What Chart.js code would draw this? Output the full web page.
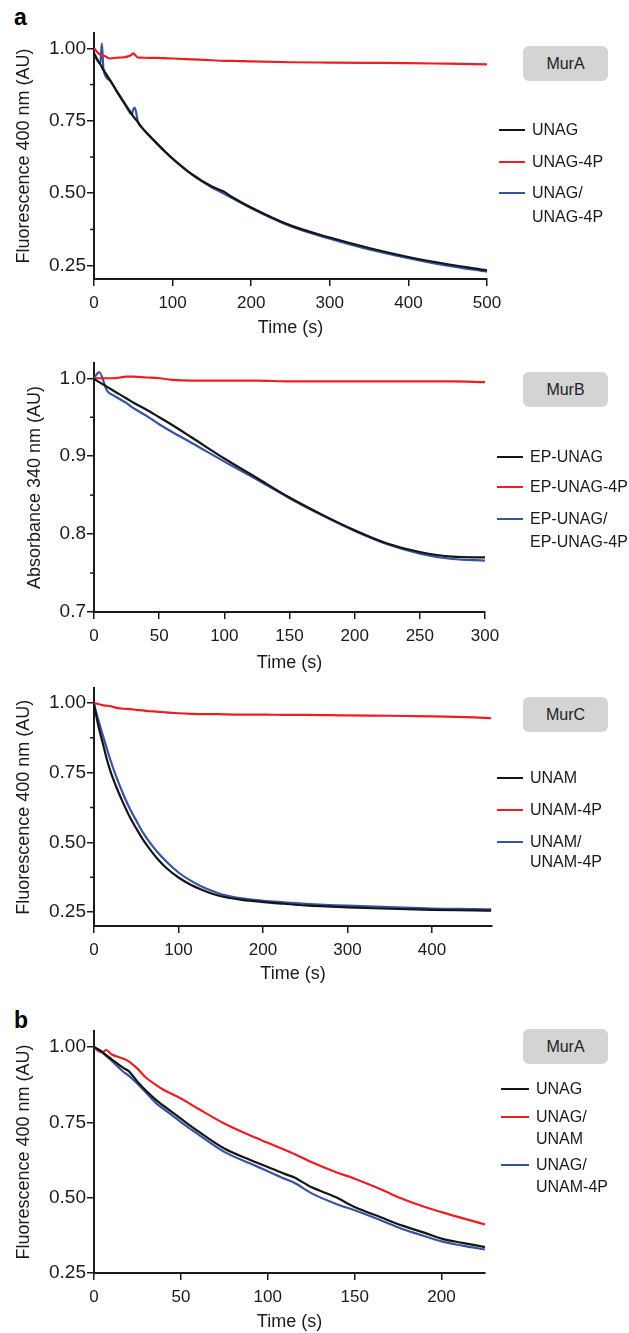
<!DOCTYPE html>
<html>
<head>
<meta charset="utf-8">
<script src="https://cdn.jsdelivr.net/npm/chart.js@4.4.1/dist/chart.umd.min.js"></script>
<style>
  body { margin: 0; width: 629px; height: 1333px; position: relative; background: #fff; overflow: hidden;
         font-family: "Liberation Sans", Arial, sans-serif; color: #1a1a1a; }
  canvas { position: absolute; left: 0; }
  .txt { position: absolute; white-space: nowrap; }
  .box { position: absolute; background: #d4d4d4; border-radius: 6px; text-align: center; font-size: 16px; color: #222; }
  .swatch { position: absolute; height: 2px; }
</style>
</head>
<body>
<script>
// panel a, MurA
const murATime = [0, 5, 8, 10, 12, 20, 30, 40, 48, 50, 52, 56, 60, 70, 80, 90, 100, 125, 150, 165, 175, 200, 250, 300, 350, 400, 450, 500];
const murAUnag = [0.983, 0.958, 0.945, 0.935, 0.926, 0.892, 0.848, 0.806, 0.774, 0.765, 0.758, 0.745, 0.73, 0.70, 0.672, 0.645, 0.62, 0.565, 0.523, 0.506, 0.488, 0.451, 0.389, 0.347, 0.311, 0.28, 0.255, 0.234];
const murAUnag4P = [1.0, 0.985, 0.978, 0.975, 0.975, 0.965, 0.968, 0.97, 0.978, 0.983, 0.978, 0.968, 0.968, 0.967, 0.967, 0.966, 0.965, 0.962, 0.959, 0.957, 0.957, 0.955, 0.952, 0.951, 0.95, 0.949, 0.947, 0.945];
const murAMix = [0.98, 0.955, 0.948, 1.017, 0.928, 0.89, 0.846, 0.804, 0.772, 0.79, 0.795, 0.745, 0.729, 0.699, 0.671, 0.644, 0.618, 0.563, 0.52, 0.499, 0.484, 0.448, 0.386, 0.343, 0.306, 0.276, 0.25, 0.229];

// MurB
const murBTime = [0, 4, 10, 15, 20, 25, 30, 40, 50, 60, 75, 100, 125, 150, 175, 200, 225, 250, 275, 300];
const murBEpUnag = [0.999, 0.995, 0.989, 0.984, 0.979, 0.974, 0.969, 0.96, 0.95, 0.94, 0.924, 0.897, 0.872, 0.847, 0.825, 0.805, 0.788, 0.777, 0.771, 0.77];
const murBEpUnag4P = [1.0, 1.0, 1.0, 1.0, 1.001, 1.002, 1.002, 1.001, 1.0, 0.998, 0.997, 0.997, 0.997, 0.996, 0.996, 0.996, 0.996, 0.996, 0.996, 0.995];
const murBMix = [1.0, 1.008, 0.984, 0.978, 0.973, 0.968, 0.962, 0.952, 0.941, 0.931, 0.917, 0.893, 0.87, 0.846, 0.824, 0.804, 0.787, 0.775, 0.768, 0.766];

// MurC
const murCTime = [0, 5, 11, 15, 20, 27, 35, 43, 50, 58, 66, 74, 85, 100, 115, 126, 140, 153, 175, 201, 225, 250, 300, 350, 400, 450, 470];
const murCUnam = [0.996, 0.92, 0.848, 0.80, 0.75, 0.694, 0.638, 0.587, 0.55, 0.51, 0.476, 0.445, 0.41, 0.374, 0.347, 0.332, 0.316, 0.305, 0.294, 0.286, 0.28, 0.274, 0.267, 0.262, 0.258, 0.256, 0.255];
const murCUnam4P = [1.0, 0.996, 0.991, 0.99, 0.988, 0.982, 0.979, 0.978, 0.975, 0.973, 0.97, 0.969, 0.966, 0.963, 0.961, 0.96, 0.96, 0.959, 0.958, 0.958, 0.957, 0.957, 0.955, 0.954, 0.952, 0.948, 0.945];
const murCMix = [0.996, 0.94, 0.878, 0.838, 0.79, 0.73, 0.67, 0.617, 0.578, 0.535, 0.5, 0.469, 0.433, 0.392, 0.362, 0.344, 0.326, 0.312, 0.299, 0.29, 0.285, 0.28, 0.273, 0.268, 0.263, 0.261, 0.26];

// panel b, MurA
const bTime = [0, 3, 5, 7, 10, 17, 20, 25, 30, 36, 40, 50, 60, 75, 90, 100, 110, 115, 125, 139, 150, 165, 177, 190, 200, 212, 225];
const bUnag = [1.0, 0.99, 0.982, 0.973, 0.96, 0.93, 0.92, 0.885, 0.855, 0.823, 0.805, 0.762, 0.72, 0.663, 0.625, 0.602, 0.578, 0.568, 0.535, 0.502, 0.469, 0.435, 0.408, 0.384, 0.364, 0.35, 0.336];
const bUnagUnam = [1.0, 0.985, 0.983, 0.99, 0.976, 0.961, 0.952, 0.928, 0.898, 0.873, 0.858, 0.829, 0.795, 0.746, 0.706, 0.682, 0.658, 0.646, 0.618, 0.585, 0.563, 0.528, 0.497, 0.47, 0.452, 0.432, 0.411];
const bUnagUnam4P = [1.0, 0.99, 0.98, 0.97, 0.955, 0.917, 0.905, 0.878, 0.848, 0.812, 0.795, 0.751, 0.71, 0.652, 0.613, 0.588, 0.562, 0.55, 0.515, 0.48, 0.458, 0.425, 0.397, 0.373, 0.355, 0.341, 0.328];

const FONT = '"Liberation Sans", Arial, sans-serif';
const BLACK = '#151515';
const RED = 'rgb(236, 30, 36)';
const BLUE = 'rgb(55, 84, 164)';
const INK = '#1a1a1a';

// short minor ticks on the y axis, placed through the scale
const minorTicks = {
    id: 'minorTicks',
    afterDraw(chart, args, opts) {
        const ys = chart.scales.y;
        const ctx = chart.ctx;
        ctx.save();
        ctx.strokeStyle = INK;
        ctx.lineWidth = 1.5;
        (opts.values || []).forEach(v => {
            const y = ys.getPixelForValue(v);
            ctx.beginPath();
            ctx.moveTo(ys.right - 4, y);
            ctx.lineTo(ys.right, y);
            ctx.stroke();
        });
        ctx.restore();
    }
};

function addDiv(cls, x, y, text, size, extra) {
    const d = document.createElement('div');
    d.className = cls;
    d.style.left = x + 'px';
    d.style.top = y + 'px';
    if (size) { d.style.fontSize = size + 'px'; d.style.lineHeight = size + 'px'; }
    if (text) d.textContent = text;
    Object.assign(d.style, extra || {});
    document.body.appendChild(d);
    return d;
}

function crearPanel(cfg) {
    const canvas = document.createElement('canvas');
    canvas.width = 629;
    canvas.height = cfg.bottom - cfg.top;
    canvas.style.top = cfg.top + 'px';
    canvas.style.width = '629px';
    canvas.style.height = (cfg.bottom - cfg.top) + 'px';
    document.body.appendChild(canvas);

    const padLeft = cfg.padLeft || 0;
    const colors = [BLACK, RED, BLUE];

    new Chart(canvas, {
        type: 'line',
        data: {
            datasets: cfg.series.map((vals, k) => ({
                label: cfg.names[k].join(' '),
                data: cfg.time.map((t, i) => ({ x: t, y: vals[i] })),
                borderColor: colors[k],
                borderWidth: 2.2,
                pointRadius: 0,
                fill: false,
                cubicInterpolationMode: 'monotone'
            }))
        },
        options: {
            responsive: false,
            animation: false,
            events: [],
            layout: { padding: { top: cfg.plotTop - cfg.top, right: 629 - cfg.right, left: padLeft, bottom: 0 } },
            plugins: {
                legend: { display: false },
                tooltip: { enabled: false },
                minorTicks: { values: cfg.minor }
            },
            scales: {
                x: {
                    type: 'linear',
                    min: 0,
                    max: cfg.xMax,
                    afterBuildTicks: s => { s.ticks = cfg.xTicks.map(v => ({ value: v })); },
                    afterFit: s => { s.height = cfg.bottom - cfg.axisY; },
                    grid: { drawOnChartArea: false, color: INK, lineWidth: 1.5, tickLength: 7 },
                    border: { color: INK, width: 2 },
                    ticks: { font: { family: FONT, size: 17 }, color: INK, padding: 7, maxRotation: 0, callback: v => String(v) },
                    title: {
                        display: true, text: 'Time (s)', color: INK,
                        font: { family: FONT, size: 18 },
                        padding: { top: 0, bottom: cfg.bottom - cfg.titleY - 10.8 }
                    }
                },
                y: {
                    type: 'linear',
                    min: cfg.yMin,
                    max: cfg.yMax,
                    afterBuildTicks: s => { s.ticks = cfg.yTicks.map(v => ({ value: v })); },
                    afterFit: s => { s.width = 94 - padLeft; },
                    grid: { drawOnChartArea: false, color: INK, lineWidth: 1.5, tickLength: 7 },
                    border: { color: INK, width: 2 },
                    ticks: { font: { family: FONT, size: 19 }, color: INK, padding: 1, callback: v => v.toFixed(cfg.dec) },
                    title: {
                        display: true, text: cfg.yTitle, color: INK,
                        font: { family: FONT, size: 18 },
                        padding: { top: 13, bottom: 0 }
                    }
                }
            }
        },
        plugins: [minorTicks]
    });

    // enzyme label box
    addDiv('box', 523, cfg.boxTop, cfg.enzyme, 0, { width: '85px', height: '35px', lineHeight: '35px' });
    // legend entries
    cfg.names.forEach((lines, k) => {
        const y0 = cfg.legendRows[k][0];
        addDiv('swatch', cfg.legendX, y0 - 1, '', 0, { width: cfg.swatchW + 'px', background: colors[k] });
        lines.forEach((line, j) => {
            addDiv('txt', cfg.legendX + cfg.swatchW + 7, cfg.legendRows[k][j] - 8, line, 16);
        });
    });
}

addDiv('txt', 14, 6, 'a', 23, { fontWeight: 'bold', color: '#000' });
addDiv('txt', 14, 1009, 'b', 23, { fontWeight: 'bold', color: '#000' });

crearPanel({
    top: 0, bottom: 341, plotTop: 33, axisY: 279, right: 487, titleY: 328,
    xMax: 500, xTicks: [0, 100, 200, 300, 400, 500],
    yMin: 0.204, yMax: 1.053, yTicks: [0.25, 0.5, 0.75, 1.0], minor: [0.375, 0.625, 0.875], dec: 2,
    yTitle: 'Fluorescence 400 nm (AU)',
    time: murATime, series: [murAUnag, murAUnag4P, murAMix],
    names: [['UNAG'], ['UNAG-4P'], ['UNAG/', 'UNAG-4P']],
    enzyme: 'MurA', boxTop: 46,
    legendX: 499, swatchW: 26, legendRows: [[130], [162], [193, 217]]
});

crearPanel({
    top: 341, bottom: 676, plotTop: 363, axisY: 612, right: 485, titleY: 663, padLeft: 11,
    xMax: 300, xTicks: [0, 50, 100, 150, 200, 250, 300],
    yMin: 0.7, yMax: 1.0196, yTicks: [0.7, 0.8, 0.9, 1.0], minor: [0.75, 0.85, 0.95], dec: 1,
    yTitle: 'Absorbance 340 nm (AU)',
    time: murBTime, series: [murBEpUnag, murBEpUnag4P, murBMix],
    names: [['EP-UNAG'], ['EP-UNAG-4P'], ['EP-UNAG/', 'EP-UNAG-4P']],
    enzyme: 'MurB', boxTop: 372,
    legendX: 497, swatchW: 26, legendRows: [[457], [487], [519, 542]]
});

crearPanel({
    top: 676, bottom: 987, plotTop: 686, axisY: 926, right: 492, titleY: 974,
    xMax: 471, xTicks: [0, 100, 200, 300, 400],
    yMin: 0.2002, yMax: 1.052, yTicks: [0.25, 0.5, 0.75, 1.0], minor: [0.375, 0.625, 0.875], dec: 2,
    yTitle: 'Fluorescence 400 nm (AU)',
    time: murCTime, series: [murCUnam, murCUnam4P, murCMix],
    names: [['UNAM'], ['UNAM-4P'], ['UNAM/', 'UNAM-4P']],
    enzyme: 'MurC', boxTop: 697,
    legendX: 497, swatchW: 26, legendRows: [[778], [810], [842, 862]]
});

crearPanel({
    top: 987, bottom: 1333, plotTop: 1031, axisY: 1273, right: 485, titleY: 1322,
    xMax: 225, xTicks: [0, 50, 100, 150, 200],
    yMin: 0.25, yMax: 1.053, yTicks: [0.25, 0.5, 0.75, 1.0], minor: [], dec: 2,
    yTitle: 'Fluorescence 400 nm (AU)',
    time: bTime, series: [bUnag, bUnagUnam, bUnagUnam4P],
    names: [['UNAG'], ['UNAG/', 'UNAM'], ['UNAG/', 'UNAM-4P']],
    enzyme: 'MurA', boxTop: 1029,
    legendX: 501, swatchW: 28, legendRows: [[1089], [1117, 1139], [1165, 1187]]
});
</script>
</body>
</html>
